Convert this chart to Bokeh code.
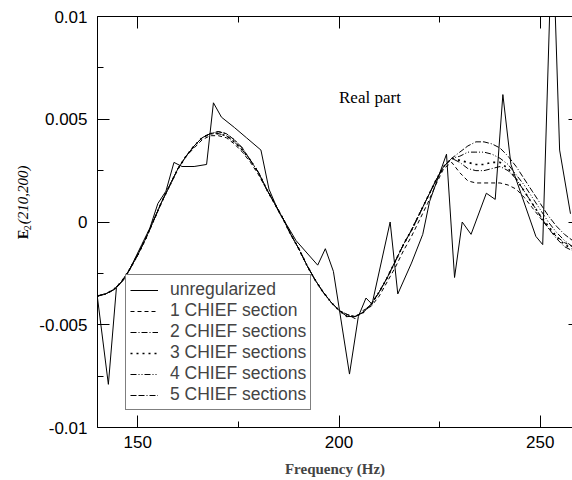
import math
from bokeh.plotting import figure
from bokeh.layouts import row
from bokeh.models import (Range1d, FixedTicker, LinearAxis, Label, Legend, LegendItem,
                          CustomJSTickFormatter)
from bokeh.core.properties import value
from bokeh.embed import file_html
from bokeh.resources import INLINE

# ---------------- data ----------------
freq = list(range(140, 260, 2))  # 140 .. 258 Hz

chief1 = [-0.0036, -0.0035, -0.0033, -0.0029, -0.0023, -0.0016, -0.0008, 0.0001, 0.0010, 0.0018,
          0.0026, 0.0032, 0.0036, 0.0040, 0.0042, 0.0042, 0.0041, 0.0038, 0.0034, 0.0029,
          0.0023, 0.0016, 0.0009, 0.0002, -0.0006, -0.0013, -0.0021, -0.0028, -0.0034, -0.0039,
          -0.0043, -0.0045, -0.0047, -0.0043, -0.0041, -0.0036, -0.0029, -0.0022, -0.0014, -0.0007,
          0.0001, 0.0009, 0.0018, 0.0026, 0.0029, 0.0024, 0.0020, 0.0019, 0.0019, 0.0019,
          0.0019, 0.0018, 0.0016, 0.0012, 0.0007, 0.0002, -0.0003, -0.0007, -0.0010, -0.0012]
chief2 = [-0.0036, -0.0035, -0.0033, -0.0029, -0.0023, -0.0016, -0.0008, 0.0001, 0.0010, 0.0018,
          0.0026, 0.0032, 0.0037, 0.0041, 0.0043, 0.0043, 0.0042, 0.0039, 0.0035, 0.0030,
          0.0024, 0.0016, 0.0009, 0.0002, -0.0006, -0.0013, -0.0021, -0.0028, -0.0034, -0.0039,
          -0.0043, -0.0046, -0.0046, -0.0044, -0.0040, -0.0034, -0.0027, -0.0019, -0.0011, -0.0004,
          0.0004, 0.0012, 0.0020, 0.0027, 0.0031, 0.0029, 0.0026, 0.0025, 0.0025, 0.0026,
          0.0027, 0.0025, 0.0021, 0.0015, 0.0009, 0.0003, -0.0003, -0.0008, -0.0012, -0.0014]
chief3 = [-0.0036, -0.0035, -0.0033, -0.0029, -0.0023, -0.0016, -0.0008, 0.0001, 0.0010, 0.0018,
          0.0026, 0.0032, 0.0037, 0.0041, 0.0043, 0.0043, 0.0042, 0.0039, 0.0035, 0.0030,
          0.0024, 0.0016, 0.0009, 0.0002, -0.0006, -0.0013, -0.0021, -0.0028, -0.0034, -0.0039,
          -0.0043, -0.0046, -0.0046, -0.0044, -0.0040, -0.0034, -0.0027, -0.0019, -0.0011, -0.0004,
          0.0004, 0.0012, 0.0020, 0.0027, 0.0031, 0.0030, 0.0029, 0.0028, 0.0028, 0.0029,
          0.0029, 0.0026, 0.0021, 0.0015, 0.0009, 0.0003, -0.0002, -0.0007, -0.0011, -0.0013]
chief4 = [-0.0036, -0.0035, -0.0033, -0.0029, -0.0023, -0.0016, -0.0008, 0.0001, 0.0010, 0.0018,
          0.0026, 0.0032, 0.0037, 0.0041, 0.0043, 0.0044, 0.0043, 0.0040, 0.0036, 0.0030,
          0.0024, 0.0016, 0.0009, 0.0002, -0.0006, -0.0013, -0.0021, -0.0028, -0.0034, -0.0039,
          -0.0043, -0.0046, -0.0046, -0.0044, -0.0040, -0.0034, -0.0027, -0.0019, -0.0011, -0.0004,
          0.0004, 0.0012, 0.0020, 0.0027, 0.0031, 0.0032, 0.0034, 0.0034, 0.0034, 0.0033,
          0.0031, 0.0028, 0.0023, 0.0018, 0.0012, 0.0006, 0.0000, -0.0005, -0.0009, -0.0012]
chief5 = [-0.0036, -0.0035, -0.0033, -0.0029, -0.0023, -0.0016, -0.0008, 0.0001, 0.0010, 0.0018,
          0.0026, 0.0032, 0.0037, 0.0041, 0.0043, 0.0044, 0.0043, 0.0040, 0.0036, 0.0030,
          0.0024, 0.0016, 0.0009, 0.0002, -0.0006, -0.0013, -0.0021, -0.0028, -0.0034, -0.0039,
          -0.0043, -0.0045, -0.0046, -0.0044, -0.0040, -0.0034, -0.0027, -0.0019, -0.0011, -0.0004,
          0.0004, 0.0012, 0.0020, 0.0027, 0.0031, 0.0034, 0.0037, 0.0039, 0.0039, 0.0038,
          0.0036, 0.0032, 0.0027, 0.0021, 0.0015, 0.0009, 0.0003, -0.0002, -0.0006, -0.0009]

freq_unreg = [140.0, 142.7, 144.7, 147.0, 149.0, 151.0, 153.0, 155.0, 157.0, 159.0,
              161.0, 164.0, 167.1, 168.8, 170.8, 174.0, 177.0, 180.6, 182.6, 185.0,
              187.5, 189.3, 194.7, 196.6, 198.6, 202.6, 204.8, 206.7, 208.2, 212.7,
              214.6, 218.0, 220.8, 222.5, 226.7, 228.7, 230.6, 232.8, 236.6, 238.8,
              240.7, 242.7, 248.9, 250.6, 253.0, 254.8, 257.5]
unreg = [-0.0037, -0.0079, -0.0032, -0.0027, -0.0019, -0.0011, -0.0003, 0.0009, 0.0015, 0.0029,
         0.0027, 0.0027, 0.0028, 0.0058, 0.0051, 0.0046, 0.0041, 0.0035, 0.0016, 0.0005,
         -0.0003, -0.0009, -0.0021, -0.0013, -0.0024, -0.0074, -0.0046, -0.0037, -0.0040, 0.0000,
         -0.0035, -0.0020, -0.0006, 0.0010, 0.0033, -0.0027, 0.0000, -0.0006, 0.0014, 0.0011,
         0.0062, 0.0028, -0.0007, -0.0011, 0.0145, 0.0035, 0.0004]

series_names = ["unregularized", "1 CHIEF section", "2 CHIEF sections", "3 CHIEF sections",
                "4 CHIEF sections", "5 CHIEF sections"]
x_ticks = [150, 200, 250]
x_minor = [150, 175, 200, 225, 250]
y_ticks = [-0.01, -0.005, 0, 0.005, 0.01]
y_minor = [-0.01, -0.0075, -0.005, -0.0025, 0, 0.0025, 0.005, 0.0075, 0.01]
ylabel_main = "E"
ylabel_sub = "2"
ylabel_rest = "(210,200)"

LEFT_W = 36

# ---------------- y-label strip (pixel coordinates) ----------------
lab = figure(width=LEFT_W, height=480, output_backend="svg", toolbar_location=None,
             x_range=Range1d(0, LEFT_W), y_range=Range1d(480, 0),
             x_axis_location=None, y_axis_location=None,
             min_border_left=0, min_border_right=0, min_border_top=0, min_border_bottom=0)
lab.grid.visible = False
lab.outline_line_color = None
lab.text(x=[22.5], y=[260], text=[ylabel_main], angle=math.pi / 2,
         text_font=value("Liberation Serif"), text_font_style="bold",
         text_font_size="15px", text_align="left", text_baseline="middle", text_color="black")
lab.text(x=[26.5], y=[249.5], text=[ylabel_sub], angle=math.pi / 2,
         text_font=value("Liberation Serif"), text_font_size="10px",
         text_align="left", text_baseline="middle", text_color="black")
lab.text(x=[22.5], y=[242.5], text=[ylabel_rest], angle=math.pi / 2,
         text_font=value("Liberation Serif"), text_font_style="italic",
         text_font_size="15px", text_align="left", text_baseline="middle", text_color="black")

# ---------------- main figure ----------------
p = figure(width=572 - LEFT_W, height=480, output_backend="svg", toolbar_location=None,
           x_range=Range1d(140, 258), y_range=Range1d(-0.01, 0.01),
           x_axis_location=None, y_axis_location=None,
           min_border_left=95 - LEFT_W, min_border_right=0, min_border_top=16,
           min_border_bottom=53)
p.grid.visible = False
p.outline_line_color = None
p.background_fill_color = "white"
p.border_fill_color = "white"

fmt = CustomJSTickFormatter(code="return tick.toString();")


def style_axis(ax, show_labels=True):
    ax.major_tick_in = 12
    ax.major_tick_out = 0
    ax.minor_tick_in = 6
    ax.minor_tick_out = 0
    ax.axis_line_color = "black"
    ax.major_tick_line_color = "black"
    ax.minor_tick_line_color = "black"
    ax.axis_line_width = 1
    if show_labels:
        ax.major_label_text_font = "Liberation Sans"
        ax.major_label_text_font_size = "17px"
        ax.major_label_text_color = "black"
    else:
        ax.major_label_text_font_size = "0px"
        ax.major_label_text_color = None
        ax.major_label_standoff = 0


bottom = LinearAxis(ticker=FixedTicker(ticks=x_ticks, minor_ticks=x_minor), formatter=fmt)
style_axis(bottom)
bottom.major_label_standoff = 8
bottom.axis_label = "Frequency (Hz)"
bottom.axis_label_text_font = "Liberation Serif"
bottom.axis_label_text_font_style = "bold"
bottom.axis_label_text_font_size = "15px"
bottom.axis_label_standoff = 10
p.add_layout(bottom, "below")

top = LinearAxis(ticker=FixedTicker(ticks=x_ticks, minor_ticks=x_minor))
style_axis(top, show_labels=False)
p.add_layout(top, "above")

left = LinearAxis(ticker=FixedTicker(ticks=y_ticks, minor_ticks=y_minor), formatter=fmt)
style_axis(left)
left.major_label_standoff = 10
p.add_layout(left, "left")

right = LinearAxis(ticker=FixedTicker(ticks=y_ticks, minor_ticks=[]))
style_axis(right, show_labels=False)
right.major_tick_in = 4
right.minor_tick_in = 0
right.axis_line_color = None
p.add_layout(right, "right")

# ---------------- lines ----------------
r0 = p.line(freq_unreg, unreg, line_color="black", line_width=1)
r1 = p.line(freq, chief1, line_color="black", line_width=1, line_dash="4 3")
r2 = p.line(freq, chief2, line_color="black", line_width=1, line_dash="6 2 1 2")
r3 = p.line(freq, chief3, line_color="black", line_width=1.6, line_dash="2 4")
r4 = p.line(freq, chief4, line_color="black", line_width=1, line_dash="6 2 1 2 1 2")
r5 = p.line(freq, chief5, line_color="black", line_width=1, line_dash="6 2 6 2 1 2")

legend = Legend(items=[LegendItem(label=n, renderers=[r]) for n, r in
                       zip(series_names, [r0, r1, r2, r3, r4, r5])],
                location=(28, 17))
legend.label_text_font = "Liberation Sans"
legend.label_text_font_size = "17.5px"
legend.label_height = 20
legend.glyph_height = 20
legend.glyph_width = 28
legend.label_standoff = 12
legend.spacing = 0
legend.padding = 4
legend.margin = 0
legend.border_line_color = "black"
legend.border_line_width = 1
legend.background_fill_alpha = 1
p.add_layout(legend)

p.add_layout(Label(x=200, y=0.00605, text="Real part", text_font="Liberation Serif",
                   text_font_size="17px", text_baseline="middle", text_align="left",
                   text_color="black"))

layout = row(lab, p, spacing=0)
open("out.html", "w").write(file_html(layout, INLINE))
